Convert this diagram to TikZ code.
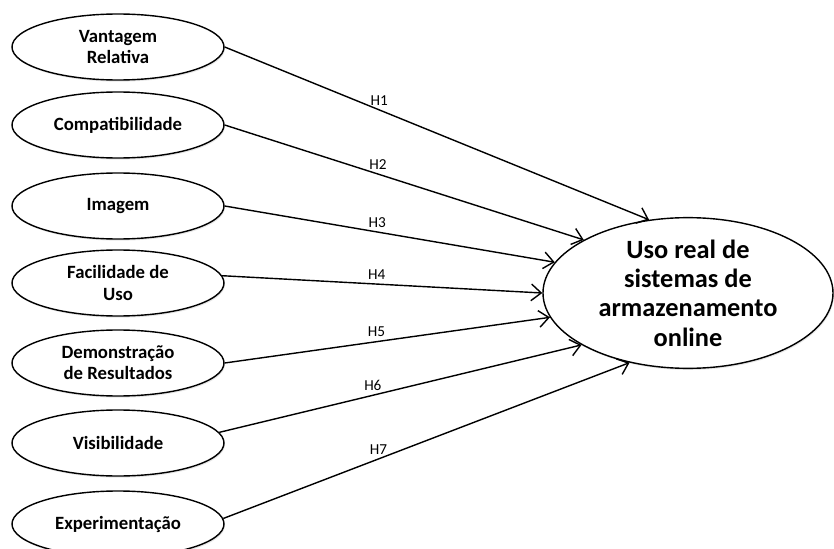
\documentclass[tikz,border=0pt]{standalone}
\usepackage{fontspec}
\setmainfont{Carlito}
\usetikzlibrary{shapes.geometric,arrows.meta,shadows}

\begin{document}
\begin{tikzpicture}[
	factor/.style={shape=ellipse,draw=black,line width=1.2pt,fill=white,minimum width=6.36cm,minimum height=1.98cm,inner sep=0pt,align=center,font=\fontsize{16}{18}\selectfont\bfseries,drop shadow={opacity=0.2,shadow xshift=0.8pt,shadow yshift=-1.4pt}},
	usage/.style={shape=ellipse,draw=black,line width=1.2pt,fill=white,minimum width=8.7cm,minimum height=4.2cm,inner sep=0pt,align=center,font=\fontsize{22.5}{25}\selectfont\bfseries,drop shadow={opacity=0.2,shadow xshift=0.8pt,shadow yshift=-1.4pt}},
	hyp/.style={-{Straight Barb[length=3mm,width=5mm,line width=1.2pt]},line width=1.2pt},
	hlabel/.style={above=2.5pt,inner sep=1pt,font=\fontsize{13}{15}\selectfont}
]
	\useasboundingbox (0,0) rectangle (25.02,16.44);

	\node[factor] (vr) at (3.54, 15.03) {Vantagem\\Relativa};
	\node[factor] (co) at (3.54, 12.69) {Compatibilidade};
	\node[factor] (im) at (3.54, 10.26) {Imagem};
	\node[factor] (fu) at (3.54, 7.95)  {Facilidade de\\Uso};
	\node[factor] (dr) at (3.54, 5.55)  {Demonstração\\de Resultados};
	\node[factor] (vi) at (3.54, 3.15)  {Visibilidade};
	\node[factor] (ex) at (3.54, 0.72)  {Experimentação};

	\node[usage] (uso) at (20.64, 7.65) {Uso real de\\sistemas de\\armazenamento\\online};

	\draw[hyp] (vr.east) -- node[hlabel,pos=0.364] {H1} (uso.118);
	\draw[hyp] (co.east) -- node[hlabel,pos=0.427] {H2} (uso.153);
	\draw[hyp] (im.east) -- node[hlabel,pos=0.462] {H3} (uso.167);
	\draw[hyp] (fu.4)    -- node[hlabel,pos=0.483] {H4} (uso.180);
	\draw[hyp] (dr.east) -- node[hlabel,pos=0.467] {H5} (uso.190);
	\draw[hyp] (vi.6)    -- node[hlabel,pos=0.424] {H6} (uso.206);
	\draw[hyp] (ex.3)    -- node[hlabel,pos=0.382] {H7} (uso.230);
\end{tikzpicture}
\end{document}
